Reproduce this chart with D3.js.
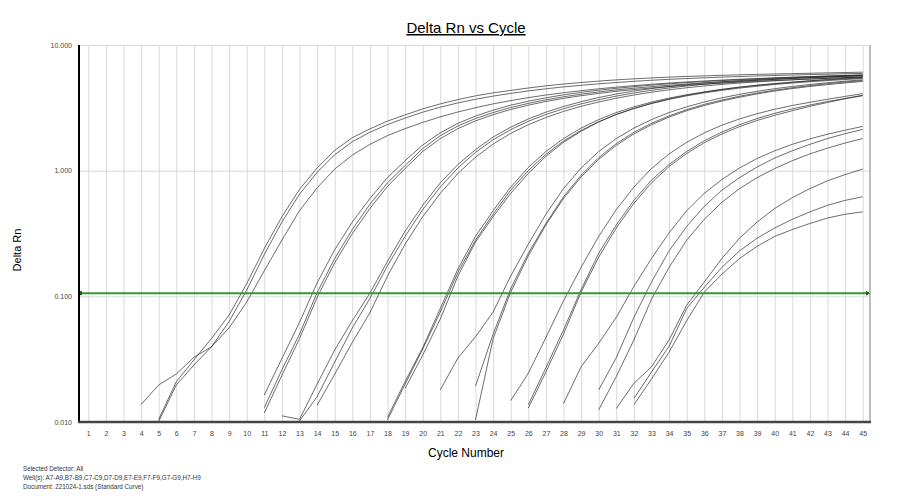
<!DOCTYPE html>
<html>
<head>
  <meta charset="utf-8">
  <title>Delta Rn vs Cycle</title>
  <style>
    body { margin: 0; background: #fff; font-family: "Liberation Sans", Arial, sans-serif; }
    .tick text { fill: #444; font-size: 7px; font-family: "Liberation Sans", Arial, sans-serif; }
    .grid line { stroke: #d8d8d8; stroke-width: 1; }
    .well      { fill: none; stroke: #262626; stroke-width: 0.75; stroke-opacity: 0.9; }
    .foot      { font-size: 6.3px; fill: #333; }
  </style>
</head>
<body>
<svg id="chart" width="900" height="500"></svg>

<script src="https://d3js.org/d3.v7.min.js"></script>
<script>

// Delta Rn per cycle, one array per well.
// wellStart says at which cycle each array begins (earlier points are below 0.010)
var cycles = d3.range(1, 46);
var yTicks = [0.01, 0.1, 1, 10];
var threshold = 0.106;

var wellA7 = [0.0105,0.0209,0.0312,0.0462,0.071,0.126,0.24,0.43,0.71,1.05,1.45,1.83,2.15,2.48,2.78,3.1,3.4,3.68,3.94,4.16,4.35,4.55,4.73,4.89,5.03,5.16,5.28,5.38,5.47,5.55,5.62,5.68,5.74,5.79,5.84,5.88,5.92,5.96,6.0,6.04,6.08];
var wellA8 = [0.0101,0.0197,0.0284,0.0397,0.063,0.112,0.215,0.39,0.65,0.97,1.34,1.7,2.02,2.33,2.62,2.92,3.2,3.46,3.7,3.92,4.12,4.31,4.48,4.64,4.78,4.91,5.03,5.14,5.24,5.33,5.41,5.48,5.55,5.61,5.67,5.72,5.77,5.82,5.86,5.9,5.94];
var wellA9 = [0.0138,0.0197,0.0241,0.0327,0.0397,0.056,0.09,0.16,0.28,0.48,0.73,1.03,1.33,1.62,1.9,2.16,2.42,2.68,2.93,3.17,3.4,3.61,3.81,4.0,4.17,4.33,4.48,4.62,4.75,4.87,4.98,5.08,5.17,5.26,5.34,5.41,5.48,5.54,5.6,5.65,5.7,5.75];
var wellB7 = [0.0164,0.032,0.062,0.128,0.235,0.39,0.6,0.88,1.2,1.6,2.0,2.38,2.72,3.03,3.32,3.57,3.8,4.01,4.2,4.37,4.52,4.66,4.79,4.91,5.02,5.12,5.21,5.3,5.38,5.46,5.53,5.6,5.67,5.73,5.79];
var wellB8 = [0.013,0.026,0.05,0.107,0.2,0.34,0.54,0.8,1.1,1.5,1.9,2.27,2.6,2.9,3.18,3.43,3.66,3.87,4.06,4.23,4.39,4.53,4.66,4.78,4.89,4.99,5.08,5.17,5.25,5.33,5.41,5.48,5.55,5.62,5.68];
var wellB9 = [0.0118,0.0235,0.046,0.098,0.185,0.315,0.5,0.75,1.04,1.42,1.8,2.16,2.49,2.79,3.07,3.32,3.55,3.76,3.95,4.12,4.28,4.42,4.55,4.67,4.78,4.88,4.97,5.06,5.14,5.22,5.29,5.36,5.43,5.5,5.56];
var wellC7 = [0.0112,0.0105,0.02,0.0374,0.064,0.106,0.19,0.33,0.53,0.8,1.12,1.47,1.85,2.22,2.58,2.92,3.24,3.54,3.82,4.07,4.3,4.5,4.68,4.84,4.98,5.1,5.21,5.31,5.4,5.48,5.55,5.61,5.67,5.72];
var wellC8 = [0.0102,0.0159,0.03,0.056,0.096,0.175,0.3,0.49,0.74,1.05,1.4,1.76,2.12,2.47,2.8,3.11,3.4,3.67,3.92,4.15,4.36,4.55,4.72,4.87,5.0,5.12,5.23,5.33,5.42,5.5,5.57,5.64,5.7];
var wellC9 = [0.0136,0.024,0.043,0.074,0.145,0.26,0.43,0.66,0.95,1.28,1.63,1.98,2.32,2.65,2.96,3.25,3.52,3.77,4.0,4.21,4.4,4.57,4.72,4.86,4.98,5.09,5.19,5.28,5.36,5.43,5.5,5.56];
var wellD7 = [0.0109,0.021,0.039,0.08,0.165,0.3,0.48,0.74,1.06,1.42,1.8,2.18,2.55,2.9,3.22,3.51,3.78,4.02,4.24,4.44,4.62,4.78,4.92,5.05,5.17,5.28,5.38,5.47];
var wellD8 = [0.0104,0.02,0.038,0.075,0.155,0.28,0.45,0.7,1.0,1.35,1.72,2.09,2.45,2.8,3.12,3.42,3.69,3.94,4.16,4.36,4.54,4.7,4.85,4.98,5.1,5.21,5.31,5.4];
var wellD9 = [0.0185,0.034,0.066,0.145,0.27,0.43,0.66,0.95,1.3,1.68,2.06,2.44,2.8,3.13,3.44,3.72,3.98,4.21,4.42,4.61,4.78,4.93,5.07,5.2,5.32,5.43,5.53];
var wellE7 = [0.018,0.0323,0.0477,0.075,0.145,0.26,0.45,0.72,1.05,1.42,1.8,2.18,2.55,2.9,3.22,3.52,3.8,4.05,4.28,4.49,4.68,4.85,5.01,5.15,5.28];
var wellE8 = [0.0193,0.05,0.115,0.22,0.38,0.62,0.92,1.27,1.64,2.02,2.38,2.73,3.06,3.37,3.65,3.91,4.15,4.37,4.57,4.75,4.92,5.07,5.21];
var wellE9 = [0.0104,0.046,0.108,0.21,0.37,0.6,0.89,1.23,1.59,1.96,2.32,2.67,3.0,3.3,3.58,3.84,4.08,4.3,4.5,4.68,4.84,4.99,5.13];
var wellF7 = [0.0148,0.0244,0.047,0.092,0.17,0.3,0.49,0.74,1.04,1.36,1.68,2.0,2.3,2.58,2.84,3.08,3.3,3.5,3.7,3.9,4.1];
var wellF8 = [0.0137,0.027,0.054,0.113,0.22,0.37,0.58,0.84,1.12,1.42,1.73,2.03,2.32,2.6,2.86,3.1,3.33,3.55,3.76,3.98];
var wellF9 = [0.0129,0.025,0.05,0.108,0.205,0.35,0.55,0.8,1.08,1.37,1.67,1.96,2.24,2.51,2.76,3.0,3.25,3.49,3.73,3.95];
var wellG7 = [0.014,0.0275,0.0423,0.068,0.12,0.2,0.32,0.48,0.66,0.85,1.05,1.25,1.44,1.62,1.79,1.95,2.1,2.25];
var wellG8 = [0.018,0.0325,0.068,0.13,0.23,0.36,0.52,0.7,0.88,1.07,1.26,1.44,1.62,1.8,1.97,2.13];
var wellG9 = [0.0125,0.023,0.045,0.095,0.17,0.28,0.41,0.56,0.72,0.88,1.04,1.2,1.36,1.51,1.66,1.8];
var wellH7 = [0.0128,0.0203,0.0275,0.045,0.085,0.13,0.2,0.29,0.39,0.5,0.61,0.72,0.83,0.93,1.03];
var wellH8 = [0.0154,0.025,0.04,0.08,0.118,0.17,0.23,0.29,0.35,0.41,0.47,0.53,0.58,0.62];
var wellH9 = [0.0137,0.022,0.036,0.064,0.108,0.15,0.2,0.25,0.3,0.34,0.38,0.42,0.45,0.47];

var wells = [wellA7, wellA8, wellA9, wellB7, wellB8, wellB9, wellC7, wellC8, wellC9,
             wellD7, wellD8, wellD9, wellE7, wellE8, wellE9, wellF7, wellF8, wellF9,
             wellG7, wellG8, wellG9, wellH7, wellH8, wellH9];
var wellStart = [5, 5, 4, 11, 11, 11, 12, 13, 14, 18, 18, 19, 21, 23, 23, 25, 26, 26, 28, 30, 30, 31, 32, 32];

var footer = ["Selected Detector: All",
              "Well(s): A7-A9,B7-B9,C7-C9,D7-D9,E7-E9,F7-F9,G7-G9,H7-H9",
              "Document: 221024-1.sds (Standard Curve)"];

// plot box (named so they do not clash with window.top)
var plotLeft = 79, plotRight = 870, plotTop = 45, plotBottom = 422;
var svg = d3.select('#chart');

var xScale = d3.scaleLinear().domain([0.472, 45.415]).range([plotLeft, plotRight]);
var yScale = d3.scaleLog().domain([0.01, 10]).range([plotBottom, plotTop]);

// grid
svg.append('g')
  .attr('class', 'grid')
  .attr('transform', 'translate(0,' + plotBottom + ')')
  .call(d3.axisBottom(xScale).tickValues(cycles).tickSize(-(plotBottom - plotTop)).tickFormat(''))
  .call(g => g.select('.domain').remove());

svg.append('g')
  .attr('class', 'grid')
  .attr('transform', 'translate(' + plotLeft + ',0)')
  .call(d3.axisLeft(yScale).tickValues([0.1, 1, 10]).tickSize(-(plotRight - plotLeft)).tickFormat(''))
  .call(g => g.select('.domain').remove());

// right frame
svg.append('line').attr('x1', plotRight).attr('x2', plotRight).attr('y1', plotTop).attr('y2', plotBottom + 1)
  .attr('stroke', '#bdbdbd').attr('stroke-width', 2);

// tick labels
svg.append('g')
  .attr('transform', 'translate(0,' + plotBottom + ')')
  .call(d3.axisBottom(xScale).tickValues(cycles).tickSize(0).tickPadding(9))
  .call(g => g.select('.domain').remove());

svg.append('g')
  .attr('transform', 'translate(' + (plotLeft - 7) + ',0)')
  .call(d3.axisLeft(yScale).tickValues(yTicks).tickSize(0).tickPadding(0).tickFormat(d3.format('.3f')))
  .call(g => g.select('.domain').remove());

// curves
var line = d3.line()
  .x(d => xScale(d[0]))
  .y(d => yScale(d[1]));

svg.append('clipPath').attr('id', 'plot-clip')
  .append('rect').attr('x', plotLeft).attr('y', plotTop)
  .attr('width', plotRight - plotLeft).attr('height', plotBottom - plotTop);

svg.append('g')
  .attr('clip-path', 'url(#plot-clip)')
  .selectAll('path')
  .data(wells)
  .enter()
  .append('path')
  .attr('class', 'well')
  .attr('d', (w, i) => line(w.map((v, j) => [wellStart[i] + j, v])));

// threshold
var ty = yScale(threshold);
svg.append('line')
  .attr('x1', plotLeft).attr('x2', plotRight - 1)
  .attr('y1', ty).attr('y2', ty)
  .attr('stroke', '#2f9a2f').attr('stroke-width', 2);
svg.append('rect').attr('x', plotLeft).attr('y', ty - 2).attr('width', 3).attr('height', 4).attr('fill', '#1d5e1d');
svg.append('path')
  .attr('d', 'M' + (plotRight - 4) + ',' + (ty - 2.5) + 'L' + plotRight + ',' + ty + 'L' + (plotRight - 4) + ',' + (ty + 2.5) + 'Z')
  .attr('fill', '#1d5e1d');

// axis lines
svg.append('line').attr('x1', plotLeft).attr('x2', plotLeft).attr('y1', plotTop).attr('y2', plotBottom)
  .attr('stroke', '#000').attr('stroke-width', 2);
svg.append('line').attr('x1', plotLeft - 1).attr('x2', plotRight + 1).attr('y1', plotBottom).attr('y2', plotBottom)
  .attr('stroke', '#444').attr('stroke-width', 2.5);

// titles
svg.append('text')
  .attr('x', 466).attr('y', 33)
  .attr('text-anchor', 'middle')
  .attr('font-size', 15)
  .attr('text-decoration', 'underline')
  .text('Delta Rn vs Cycle');

svg.append('text')
  .attr('transform', 'translate(21,250) rotate(-90)')
  .attr('text-anchor', 'middle')
  .attr('font-size', 11)
  .text('Delta Rn');

svg.append('text')
  .attr('x', 466).attr('y', 457)
  .attr('text-anchor', 'middle')
  .attr('font-size', 12)
  .text('Cycle Number');

svg.append('g')
  .selectAll('text')
  .data(footer)
  .enter()
  .append('text')
  .attr('class', 'foot')
  .attr('x', 23)
  .attr('y', (d, i) => 470.5 + i * 9)
  .text(d => d);

</script>
</body>
</html>
